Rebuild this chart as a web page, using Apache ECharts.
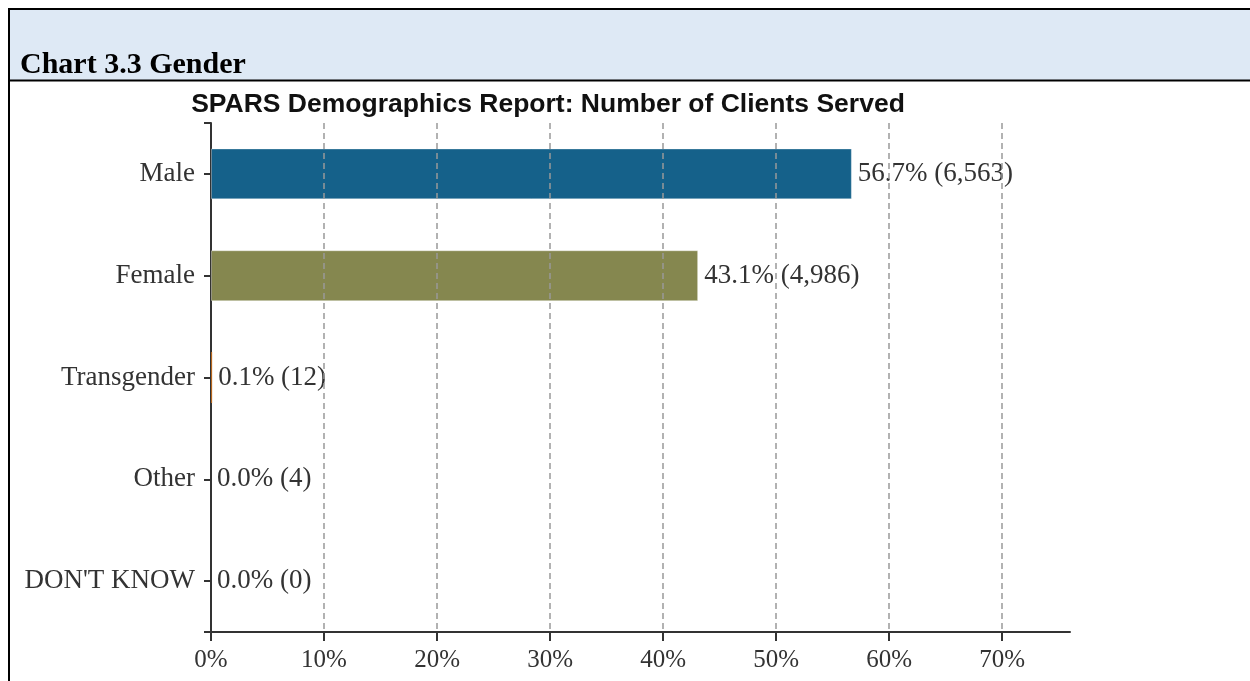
<!DOCTYPE html>
<html>
<head>
<meta charset="utf-8">
<script src="https://cdn.jsdelivr.net/npm/echarts@6/dist/echarts.min.js"></script>
<style>
  html, body { margin: 0; padding: 0; background: #ffffff; }
  #chart { width: 1250px; height: 681px; }
</style>
</head>
<body>
<div id="chart"></div>
<script>
// Gender breakdown of clients served
const categories = ['Male', 'Female', 'Transgender', 'Other', "DON'T KNOW"];
const percents = [56.7, 43.1, 0.1, 0.0, 0.0];
const counts = [6563, 4986, 12, 4, 0];
const barColors = ['#15618a', '#85874f', '#b5651d', '#7a4f8c', '#5b8c5a'];
const gridValues = [10, 20, 30, 40, 50, 60, 70];

const serif = '"Liberation Serif", "Times New Roman", serif';
const sans = '"Liberation Sans", Arial, sans-serif';

const chart = echarts.init(document.getElementById('chart'), null, { renderer: 'canvas' });

const option = {
  animation: false,
  backgroundColor: '#ffffff',
  graphic: [
    // header band
    { type: 'rect', shape: { x: 9, y: 9, width: 1241, height: 71 }, style: { fill: '#dee9f5' }, z: 0 },
    { type: 'line', shape: { x1: 8, y1: 9, x2: 1250, y2: 9 }, style: { stroke: '#000', lineWidth: 2 }, z: 1 },
    { type: 'line', shape: { x1: 8, y1: 80.5, x2: 1250, y2: 80.5 }, style: { stroke: '#000', lineWidth: 2 }, z: 1 },
    { type: 'line', shape: { x1: 9, y1: 8, x2: 9, y2: 681 }, style: { stroke: '#000', lineWidth: 2 }, z: 1 },
    {
      type: 'text', left: 20, top: 50, z: 2,
      style: { text: 'Chart 3.3 Gender', font: 'bold 30px ' + serif, fill: '#000' }
    }
  ],
  title: {
    text: 'SPARS Demographics Report: Number of Clients Served',
    left: 543, top: 86, textAlign: 'center',
    textStyle: { fontFamily: sans, fontWeight: 'bold', fontSize: 26.5, color: '#111' }
  },
  grid: { left: 211, top: 123, right: 180, bottom: 49, containLabel: false },
  xAxis: {
    type: 'value', min: 0, max: 76, interval: 10,
    axisLine: { show: true, lineStyle: { color: '#333', width: 2 } },
    axisTick: { show: true, length: 9, lineStyle: { color: '#333', width: 2 } },
    axisLabel: {
      showMaxLabel: false, margin: 16,
      formatter: v => v + '%',
      fontFamily: serif, fontSize: 25, color: '#333'
    },
    splitLine: { show: false }
  },
  yAxis: [
    {
      type: 'category', data: categories, inverse: true,
      axisLine: { show: true, lineStyle: { color: '#333', width: 2 } },
      axisTick: { show: true, alignWithLabel: true, length: 7, lineStyle: { color: '#333', width: 2 } },
      axisLabel: { margin: 16, fontFamily: serif, fontSize: 27, color: '#333' }
    },
    {
      // end ticks of the category axis
      type: 'value', min: 0, max: 1, interval: 1, position: 'left',
      axisLine: { show: false },
      axisTick: { show: true, length: 7, lineStyle: { color: '#333', width: 2 } },
      axisLabel: { show: false },
      splitLine: { show: false }
    }
  ],
  series: [
    {
      type: 'bar',
      yAxisIndex: 0,
      barWidth: '50%',
      data: percents.map((p, i) => ({
        value: p,
        itemStyle: {
          color: barColors[i],
          borderColor: 'rgba(255,255,255,0.35)',
          borderWidth: p >= 1 ? 1 : 0
        }
      })),
      label: {
        show: true, position: 'right', distance: 6,
        fontFamily: serif, fontSize: 27, color: '#333',
        formatter: p => percents[p.dataIndex].toFixed(1) + '% (' + counts[p.dataIndex].toLocaleString('en-US') + ')'
      },
      markLine: {
        silent: true, symbol: 'none', animation: false,
        label: { show: false },
        lineStyle: { color: '#999', width: 1.5, type: [6, 4] },
        data: gridValues.map(v => ({ xAxis: v }))
      },
      z: 2
    }
  ]
};

chart.setOption(option);
</script>
</body>
</html>
